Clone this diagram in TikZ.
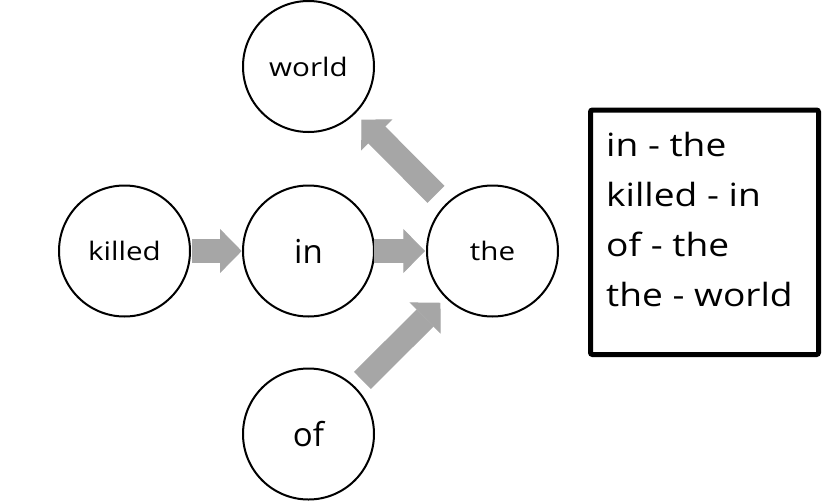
\documentclass[tikz,border=0pt]{standalone}
\usepackage{fontspec}
\setmainfont{Open Sans}
\newfontfamily\wideos[FakeStretch=1.16]{Open Sans}
\usetikzlibrary{arrows.meta}
\definecolor{arrowgray}{HTML}{A6A6A6}
\tikzset{
  word/.style={circle, draw=black, line width=2pt, minimum size=131pt, inner sep=0pt},
  smallword/.style={word, font=\wideos\fontsize{25.5}{30}\selectfont},
  bigword/.style={word, font=\fontsize{33}{38}\selectfont},
  blockarrow/.style={draw=arrowgray, line width=24pt, line cap=butt,
    -{Triangle[length=21.7pt, width=44pt, line width=1pt]}},
  listbox/.style={draw=black, line width=5pt, rounded corners=2pt, minimum width=228pt, minimum height=244.5pt, inner sep=0pt},
  listline/.style={anchor=base west, inner sep=0pt, font=\wideos\fontsize{32}{38}\selectfont}
}
\begin{document}
\begin{tikzpicture}[x=1pt, y=-1pt]
\useasboundingbox (0,0) rectangle (825,501);
\node[smallword] (killed) at (124.5,251) {killed};
\node[bigword] (in) at (308.5,251) {in};
\node[smallword] (the) at (492.5,251) {the};
\node[smallword] (world) at (308.5,66.5) {world};
\node[bigword] (of) at (308.5,434) {of};
\draw[blockarrow, shorten <=67.5pt, shorten >=66.8pt] (killed.center) -- (in.center);
\draw[blockarrow, shorten <=65.8pt, shorten >=67.5pt] (in.center) -- (the.center);
\draw[blockarrow, shorten <=80pt, shorten >=75pt] (the.center) -- (world.center);
\draw[blockarrow, shorten <=76pt, shorten >=73.4pt] (of.center) -- (the.center);
\node[listbox] (list) at (704.5,232.25) {};
\node[listline] (l1) at (606,156) {in - the};
\node[listline] (l2) at (606,206) {killed - in};
\node[listline] (l3) at (606,256) {of - the};
\node[listline] (l4) at (606,306) {the - world};
\end{tikzpicture}
\end{document}
